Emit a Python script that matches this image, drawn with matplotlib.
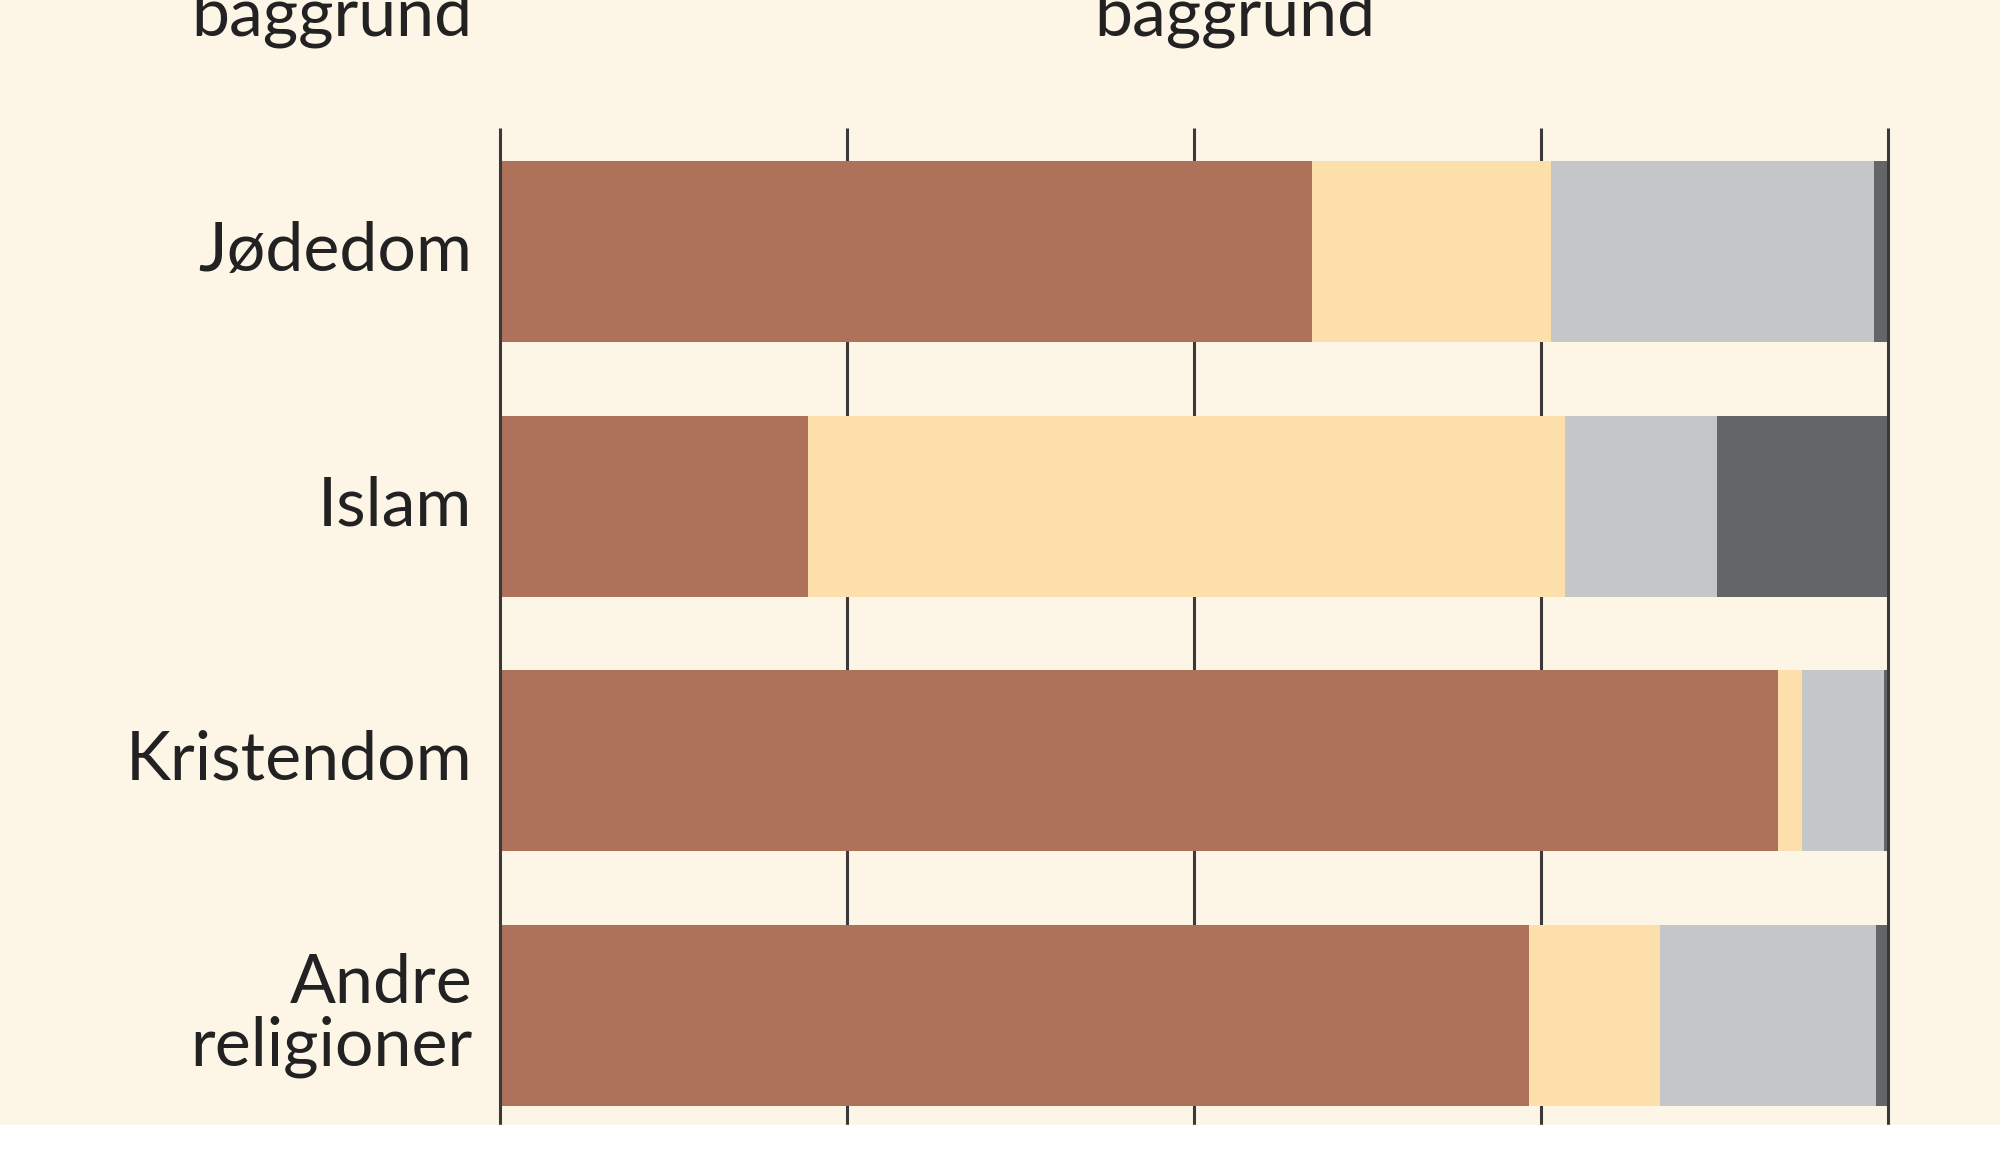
import matplotlib
matplotlib.use("Agg")
import matplotlib.pyplot as plt
import numpy as np
from matplotlib.patches import Rectangle

# Religion categories (top to bottom) and stacked shares in percent
categories = ["Jødedom", "Islam", "Kristendom", "Andre\nreligioner"]
seg1 = [58.5, 22.2, 92.1, 74.1]   # brown
seg2 = [17.2, 54.5, 1.7, 9.5]     # light beige
seg3 = [23.3, 11.0, 5.9, 15.5]    # light grey
seg4 = [1.0, 12.3, 0.3, 0.9]      # dark grey
ticks = [0, 25, 50, 75, 100]
headers = ["baggrund", "baggrund"]

colors = ["#AE715A", "#FDDFAB", "#C5C6C8", "#646567"]
bg = "#FDF6E7"
line_col = "#3A3A3A"

plt.rcParams['font.family'] = ['Lato', 'DejaVu Sans']

fig = plt.figure(figsize=(20, 11.65), dpi=100, facecolor=bg)
# white strip at the bottom of the picture
fig.patches.append(Rectangle((0, 0), 1, 40 / 1165, transform=fig.transFigure,
                             color="white", zorder=0))

ax = fig.add_axes([0.25, 40 / 1165, 0.694, 997 / 1165])
ax.set_facecolor(bg)

ylo, yhi = 3.43, -0.485
y = np.arange(len(categories))
left = np.zeros(len(categories))
for vals, c in zip([seg1, seg2, seg3, seg4], colors):
    ax.barh(y, vals, left=left, height=0.71, color=c, zorder=2)
    left += np.array(vals)

# inner gridlines behind the bars, outer ones on top
ax.vlines(ticks[1:-1], yhi, ylo, color=line_col, lw=2.2, zorder=1)
ax.vlines([ticks[0], ticks[-1]], yhi, ylo, color=line_col, lw=2.2, zorder=3,
          clip_on=False)

ax.set_xlim(0, 100)
ax.set_ylim(ylo, yhi)
for s in ax.spines.values():
    s.set_visible(False)
ax.set_xticks([])
ax.set_yticks([])

for yi, lab in zip(y, categories):
    ax.text(-2.0, yi, lab, ha="right", va="center", fontsize=49,
            color="#222222", linespacing=1.02)

# header texts cut off at the top edge
fig.text(472 / 2000, 1 - 36 / 1165, headers[0], ha="right", va="baseline",
         fontsize=49, color="#222222")
fig.text(1235 / 2000, 1 - 36 / 1165, headers[1], ha="center", va="baseline",
         fontsize=49, color="#222222")

fig.savefig("out.png", dpi=100, facecolor=fig.get_facecolor())
